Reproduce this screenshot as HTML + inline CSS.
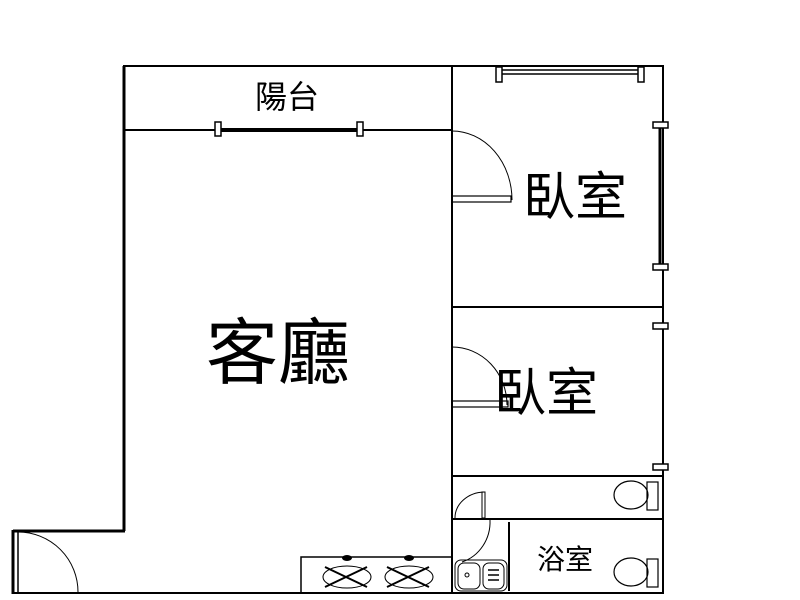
<!DOCTYPE html>
<html><head><meta charset="utf-8"><style>body{margin:0;background:#fff}svg{display:block}text{font-family:"Liberation Sans","Noto Sans CJK TC",sans-serif;fill:#000}</style></head><body>
<svg width="800" height="600" viewBox="0 0 800 600" xmlns="http://www.w3.org/2000/svg">
<g stroke="#000" fill="none">
<line x1="123" y1="66" x2="664" y2="66" stroke-width="2"/>
<line x1="124" y1="66" x2="124" y2="531" stroke-width="3"/>
<line x1="13" y1="531" x2="125" y2="531" stroke-width="3"/>
<line x1="13" y1="530" x2="13" y2="594" stroke-width="3"/>
<line x1="18" y1="532" x2="18" y2="592" stroke-width="1.5"/>
<line x1="13" y1="593" x2="664" y2="593" stroke-width="2"/>
<line x1="663" y1="66" x2="663" y2="594" stroke-width="2"/>
<line x1="124" y1="130" x2="452" y2="130" stroke-width="2"/>
<line x1="218" y1="130" x2="360" y2="130" stroke-width="4"/>
<rect x="215" y="122" width="6" height="14" fill="#fff" stroke-width="1.5"/>
<rect x="357" y="122" width="6" height="14" fill="#fff" stroke-width="1.5"/>
<line x1="452" y1="66" x2="452" y2="593" stroke-width="2"/>
<line x1="452" y1="307" x2="664" y2="307" stroke-width="2"/>
<line x1="498" y1="74" x2="641" y2="74" stroke-width="1.5"/>
<line x1="498" y1="70" x2="641" y2="70" stroke-width="1.5"/>
<rect x="496" y="67" width="6" height="15" fill="#fff" stroke-width="1.5"/>
<rect x="638" y="67" width="6" height="15" fill="#fff" stroke-width="1.5"/>
<line x1="660" y1="125" x2="660" y2="267" stroke-width="3"/>
<rect x="653" y="122" width="15" height="6" fill="#fff" stroke-width="1.5"/>
<rect x="653" y="264" width="15" height="6" fill="#fff" stroke-width="1.5"/>
<rect x="653" y="323" width="15" height="6" fill="#fff" stroke-width="1.5"/>
<rect x="653" y="464" width="15" height="6" fill="#fff" stroke-width="1.5"/>
<path d="M452 131 A60 69 0 0 1 512 200" stroke-width="1"/>
<rect x="452" y="196" width="59" height="6" stroke-width="1.2"/>
<path d="M452 347 A55 58 0 0 1 507 405" stroke-width="1"/>
<rect x="452" y="401" width="56" height="6" stroke-width="1.2"/>
<line x1="452" y1="476" x2="664" y2="476" stroke-width="2"/>
<line x1="452" y1="519" x2="664" y2="519" stroke-width="2"/>
<line x1="509" y1="522" x2="509" y2="591" stroke-width="2"/>
<path d="M484 492 A30 26 0 0 0 455 518" stroke-width="1"/>
<rect x="482" y="492" width="3" height="26" stroke-width="1"/>
<path d="M490 520 A40 42 0 0 1 462 562" stroke-width="1"/>
<rect x="455" y="560" width="52" height="31" rx="6" stroke-width="1"/>
<rect x="458" y="563" width="22" height="26" rx="6" stroke-width="1"/>
<rect x="483" y="563" width="21" height="26" rx="6" stroke-width="1"/>
<path d="M488 570h11M488 575h11M488 580h11" stroke-width="1.5"/>
<circle cx="467" cy="575" r="2" stroke-width="1"/>
<ellipse cx="631" cy="495" rx="17" ry="14" stroke-width="1.2"/>
<rect x="647" y="482" width="11" height="28" stroke-width="1.2"/>
<ellipse cx="631" cy="572" rx="17" ry="14" stroke-width="1.2"/>
<rect x="647" y="559" width="11" height="28" stroke-width="1.2"/>
<path d="M18 532 A60 60 0 0 1 78 592" stroke-width="1"/>
<rect x="301" y="557" width="151" height="36" stroke-width="1.5"/>
<ellipse cx="347" cy="577" rx="24" ry="11" stroke-width="1"/>
<ellipse cx="409" cy="577" rx="24" ry="11" stroke-width="1"/>
<path d="M325 567l42 20M325 587l42-20M387 567l42 20M387 587l42-20" stroke-width="2"/>
</g>
<ellipse cx="347" cy="558" rx="5" ry="3"/>
<ellipse cx="409" cy="558" rx="5" ry="3"/>
<text x="287" y="108" font-size="32" text-anchor="middle">陽台</text>
<text x="575" y="215" font-size="52" text-anchor="middle">臥室</text>
<text x="278" y="378" font-size="72" text-anchor="middle">客廳</text>
<text x="546" y="411" font-size="52" text-anchor="middle">臥室</text>
<text x="565" y="569" font-size="28" text-anchor="middle">浴室</text>
</svg>
</body></html>
